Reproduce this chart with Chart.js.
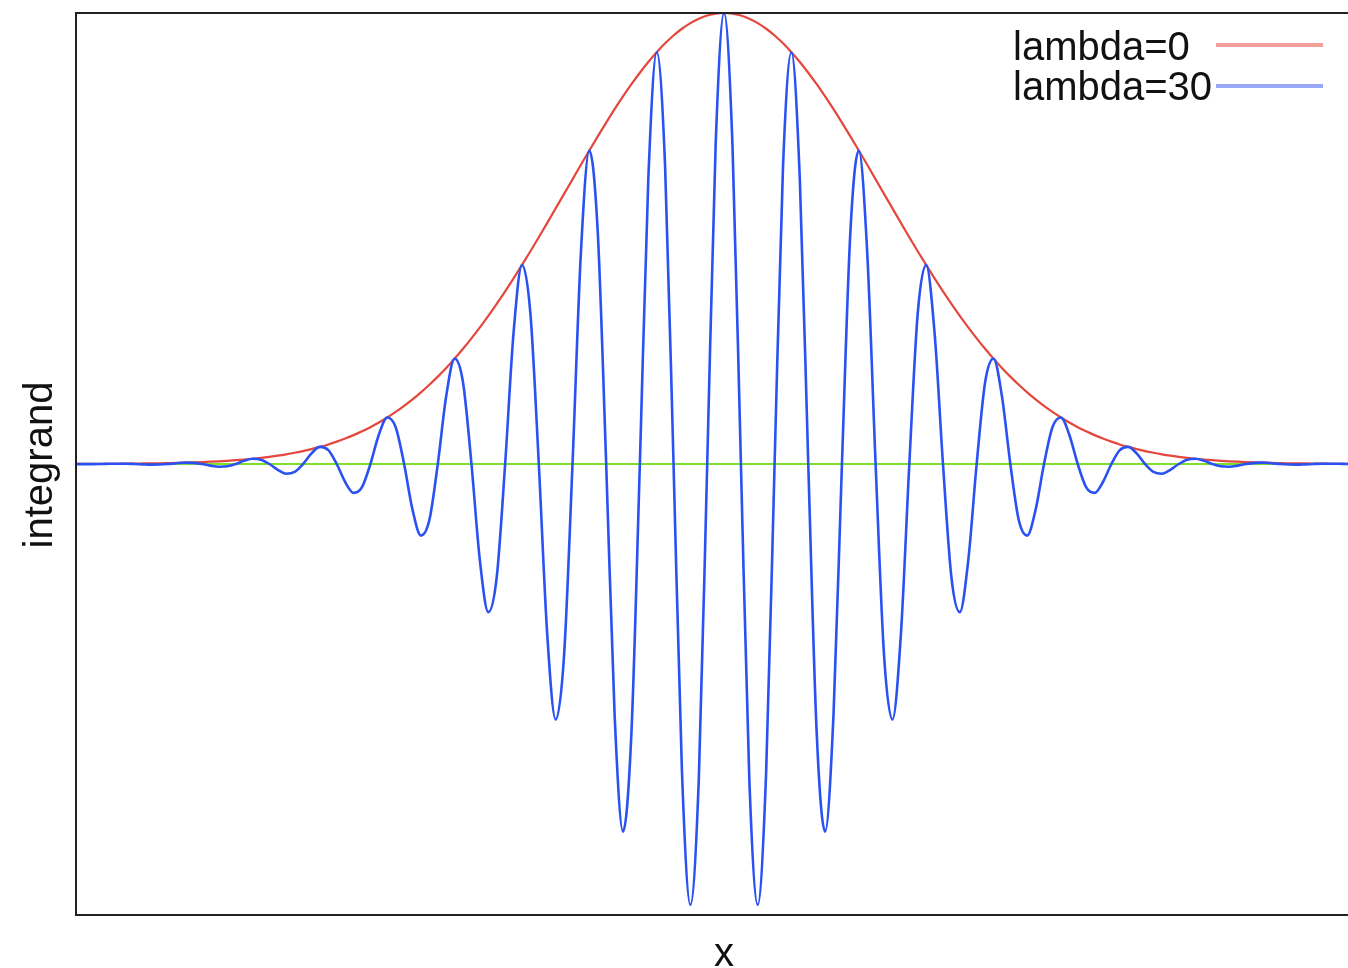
<!DOCTYPE html>
<html>
<head>
<meta charset="utf-8">
<title>integrand</title>
<script src="https://cdn.jsdelivr.net/npm/chart.js@4.4.1/dist/chart.umd.min.js"></script>
<style>
  html, body { margin: 0; padding: 0; background: #fff; }
  #wrap { width: 1348px; height: 968px; position: relative; }
</style>
</head>
<body>
<div id="wrap"><canvas id="integrandChart"></canvas></div>
<script>
// x positions (eighth periods of the oscillation, plus the two flat ends)
const xs = [
  -2.05,
  -1.9897, -1.9635, -1.9373, -1.9111, -1.8850, -1.8588, -1.8326, -1.8064, -1.7802, -1.7541,
  -1.7279, -1.7017, -1.6755, -1.6493, -1.6232, -1.5970, -1.5708, -1.5446, -1.5184, -1.4923,
  -1.4661, -1.4399, -1.4137, -1.3875, -1.3614, -1.3352, -1.3090, -1.2828, -1.2566, -1.2305,
  -1.2043, -1.1781, -1.1519, -1.1257, -1.0996, -1.0734, -1.0472, -1.0210, -0.9948, -0.9687,
  -0.9425, -0.9163, -0.8901, -0.8639, -0.8378, -0.8116, -0.7854, -0.7592, -0.7330, -0.7069,
  -0.6807, -0.6545, -0.6283, -0.6021, -0.5760, -0.5498, -0.5236, -0.4974, -0.4712, -0.4451,
  -0.4189, -0.3927, -0.3665, -0.3403, -0.3142, -0.2880, -0.2618, -0.2356, -0.2094, -0.1833,
  -0.1571, -0.1309, -0.1047, -0.0785, -0.0524, -0.0262,
  0,
  0.0262, 0.0524, 0.0785, 0.1047, 0.1309, 0.1571,
  0.1833, 0.2094, 0.2356, 0.2618, 0.2880, 0.3142, 0.3403, 0.3665, 0.3927, 0.4189,
  0.4451, 0.4712, 0.4974, 0.5236, 0.5498, 0.5760, 0.6021, 0.6283, 0.6545, 0.6807,
  0.7069, 0.7330, 0.7592, 0.7854, 0.8116, 0.8378, 0.8639, 0.8901, 0.9163, 0.9425,
  0.9687, 0.9948, 1.0210, 1.0472, 1.0734, 1.0996, 1.1257, 1.1519, 1.1781, 1.2043,
  1.2305, 1.2566, 1.2828, 1.3090, 1.3352, 1.3614, 1.3875, 1.4137, 1.4399, 1.4661,
  1.4923, 1.5184, 1.5446, 1.5708, 1.5970, 1.6232, 1.6493, 1.6755, 1.7017, 1.7279,
  1.7541, 1.7802, 1.8064, 1.8326, 1.8588, 1.8850, 1.9111, 1.9373, 1.9635, 1.9897,
  2.05
];

// lambda=0 : the envelope
const lambda0 = [
  0,
  0.0003, 0.0003, 0.0004, 0.0005, 0.0006, 0.0008, 0.0010, 0.0012, 0.0014, 0.0017,
  0.0021, 0.0025, 0.0030, 0.0036, 0.0043, 0.0051, 0.0060, 0.0071, 0.0084, 0.0099,
  0.0116, 0.0136, 0.0159, 0.0185, 0.0215, 0.0249, 0.0287, 0.0331, 0.0380, 0.0434,
  0.0496, 0.0564, 0.0640, 0.0724, 0.0817, 0.0919, 0.1031, 0.1154, 0.1287, 0.1431,
  0.1588, 0.1756, 0.1937, 0.2130, 0.2336, 0.2555, 0.2786, 0.3030, 0.3285, 0.3552,
  0.3829, 0.4117, 0.4414, 0.4718, 0.5029, 0.5346, 0.5667, 0.5989, 0.6312, 0.6634,
  0.6952, 0.7265, 0.7570, 0.7867, 0.8151, 0.8421, 0.8676, 0.8914, 0.9131, 0.9328,
  0.9502, 0.9651, 0.9775, 0.9873, 0.9943, 0.9986,
  1,
  0.9986, 0.9943, 0.9873, 0.9775, 0.9651, 0.9502,
  0.9328, 0.9131, 0.8914, 0.8676, 0.8421, 0.8151, 0.7867, 0.7570, 0.7265, 0.6952,
  0.6634, 0.6312, 0.5989, 0.5667, 0.5346, 0.5029, 0.4718, 0.4414, 0.4117, 0.3829,
  0.3552, 0.3285, 0.3030, 0.2786, 0.2555, 0.2336, 0.2130, 0.1937, 0.1756, 0.1588,
  0.1431, 0.1287, 0.1154, 0.1031, 0.0919, 0.0817, 0.0724, 0.0640, 0.0564, 0.0496,
  0.0434, 0.0380, 0.0331, 0.0287, 0.0249, 0.0215, 0.0185, 0.0159, 0.0136, 0.0116,
  0.0099, 0.0084, 0.0071, 0.0060, 0.0051, 0.0043, 0.0036, 0.0030, 0.0025, 0.0021,
  0.0017, 0.0014, 0.0012, 0.0010, 0.0008, 0.0006, 0.0005, 0.0004, 0.0003, 0.0003,
  0
];

// lambda=30 : the oscillating integrand
const lambda30 = [
  0,
  -0.0003, -0.0002, 0, 0.0004, 0.0006, 0.0006, 0, -0.0008, -0.0014, -0.0012,
  0, 0.0018, 0.0030, 0.0025, 0, -0.0036, -0.0060, -0.0050, 0, 0.0070,
  0.0116, 0.0096, 0, -0.0131, -0.0215, -0.0176, 0, 0.0234, 0.0380, 0.0307,
  0, -0.0399, -0.0640, -0.0512, 0, 0.0650, 0.1031, 0.0816, 0, -0.1012,
  -0.1588, -0.1242, 0, 0.1506, 0.2336, 0.1807, 0, -0.2142, -0.3285, -0.2511,
  0, 0.2911, 0.4414, 0.3336, 0, -0.3780, -0.5667, -0.4235, 0, 0.4691,
  0.6952, 0.5137, 0, -0.5562, -0.8151, -0.5955, 0, 0.6303, 0.9131, 0.6596,
  0, -0.6824, -0.9775, -0.6981, 0, 0.7061,
  1,
  0.7061, 0, -0.6981, -0.9775, -0.6824, 0,
  0.6596, 0.9131, 0.6303, 0, -0.5955, -0.8151, -0.5562, 0, 0.5137, 0.6952,
  0.4691, 0, -0.4235, -0.5667, -0.3780, 0, 0.3336, 0.4414, 0.2911, 0,
  -0.2511, -0.3285, -0.2142, 0, 0.1807, 0.2336, 0.1506, 0, -0.1242, -0.1588,
  -0.1012, 0, 0.0816, 0.1031, 0.0650, 0, -0.0512, -0.0640, -0.0399, 0,
  0.0307, 0.0380, 0.0234, 0, -0.0176, -0.0215, -0.0131, 0, 0.0096, 0.0116,
  0.0070, 0, -0.0050, -0.0060, -0.0036, 0, 0.0025, 0.0030, 0.0018, 0,
  -0.0012, -0.0014, -0.0008, 0, 0.0006, 0.0006, 0.0004, 0, -0.0002, -0.0003,
  0
];

const zeroLineX = [-2.05, 2.05];
const zeroLineY = [0, 0];

const xRange = [-2.015, 1.94];
const yRange = [-1, 1];

const legendLabels = ['lambda=0', 'lambda=30'];

const toPoints = (xArr, yArr) => xArr.map((x, i) => ({ x, y: yArr[i] }));

// frame, axis titles and the text-then-line legend
const frameAndLabels = {
  id: 'frameAndLabels',
  afterDraw(chart) {
    const { ctx, chartArea } = chart;
    const { left, top, right, bottom } = chartArea;
    ctx.save();

    ctx.strokeStyle = '#222';
    ctx.lineWidth = 2;
    ctx.beginPath();
    ctx.moveTo(right + 2, top);
    ctx.lineTo(left, top);
    ctx.lineTo(left, bottom);
    ctx.lineTo(right + 2, bottom);
    ctx.stroke();

    ctx.fillStyle = '#111';
    ctx.font = '40px "Liberation Sans", Arial, sans-serif';

    // x title
    ctx.textAlign = 'center';
    ctx.textBaseline = 'alphabetic';
    ctx.fillText('x', 724, 966);

    // y title
    ctx.save();
    ctx.translate(52, 465);
    ctx.rotate(-Math.PI / 2);
    ctx.fillText('integrand', 0, 0);
    ctx.restore();

    // legend
    const rows = [
      { label: legendLabels[0], color: 'rgba(232, 80, 70, 0.55)', base: 60, lineY: 45 },
      { label: legendLabels[1], color: 'rgba(50, 80, 240, 0.5)', base: 100, lineY: 86 }
    ];
    ctx.textAlign = 'left';
    rows.forEach(r => {
      ctx.fillStyle = '#111';
      ctx.fillText(r.label, 1013, r.base);
      ctx.strokeStyle = r.color;
      ctx.lineWidth = 4;
      ctx.beginPath();
      ctx.moveTo(1216, r.lineY);
      ctx.lineTo(1323, r.lineY);
      ctx.stroke();
    });

    ctx.restore();
  }
};

const ctx = document.getElementById('integrandChart').getContext('2d');
new Chart(ctx, {
  type: 'line',
  data: {
    datasets: [
      {
        label: legendLabels[1],
        data: toPoints(xs, lambda30),
        borderColor: '#2a52f2',
        borderWidth: 2.6,
        pointRadius: 0,
        cubicInterpolationMode: 'monotone',
        fill: false
      },
      {
        label: legendLabels[0],
        data: toPoints(xs, lambda0),
        borderColor: '#e4473b',
        borderWidth: 2.2,
        pointRadius: 0,
        cubicInterpolationMode: 'monotone',
        fill: false
      },
      {
        label: 'zero',
        data: toPoints(zeroLineX, zeroLineY),
        borderColor: '#7ee02a',
        borderWidth: 2,
        pointRadius: 0,
        fill: false
      }
    ]
  },
  options: {
    responsive: true,
    maintainAspectRatio: false,
    animation: false,
    events: [],
    layout: {
      padding: { left: 76, top: 13, right: 0, bottom: 53 }
    },
    scales: {
      x: { type: 'linear', min: xRange[0], max: xRange[1], display: false },
      y: { type: 'linear', min: yRange[0], max: yRange[1], display: false }
    },
    plugins: {
      legend: { display: false },
      tooltip: { enabled: false }
    }
  },
  plugins: [frameAndLabels]
});
</script>
</body>
</html>
